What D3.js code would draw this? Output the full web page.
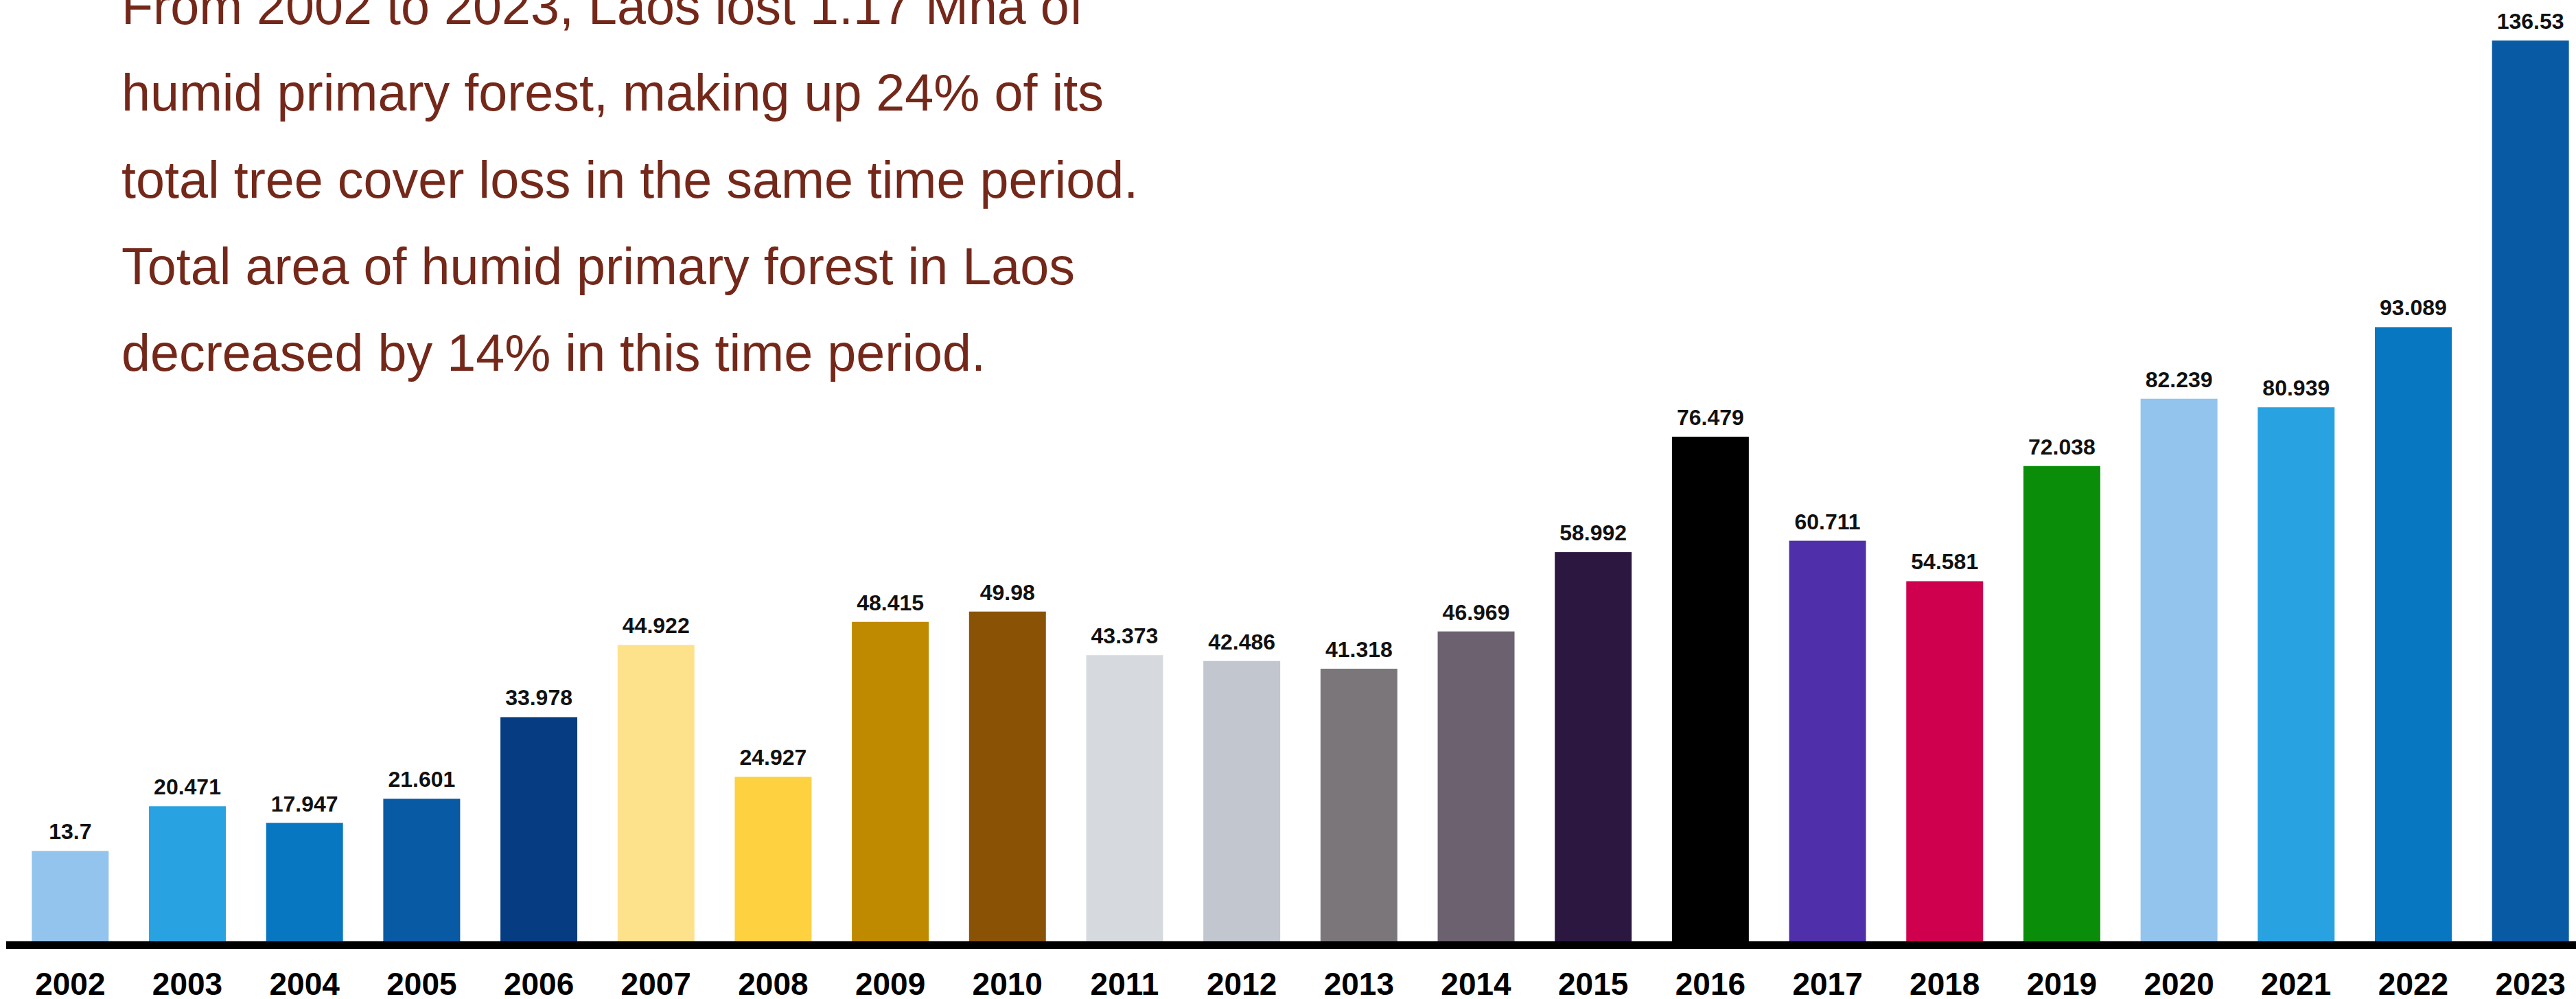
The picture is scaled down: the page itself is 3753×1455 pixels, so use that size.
<!DOCTYPE html>
<meta charset="utf-8">
<style>
    body {
        margin: 0;
        background: #fff;
    }

    svg {
        display: block;
        font-family: "Liberation Sans", Arial, Helvetica, sans-serif;
    }

    .note {
        fill: #74281a;
        font-size: 75.5px;
    }

    .value-label {
        fill: #111;
        font-size: 32px;
        font-weight: bold;
        text-anchor: middle;
    }

    .x.axis text {
        fill: #000;
        font-size: 46px;
        font-weight: bold;
    }
</style>
<body>
<script src="https://cdn.jsdelivr.net/npm/d3@7"></script>
<script>
    // tree cover loss of humid primary forest in Laos, kha per year
    const years = ["2002", "2003", "2004", "2005", "2006", "2007", "2008", "2009", "2010", "2011", "2012",
        "2013", "2014", "2015", "2016", "2017", "2018", "2019", "2020", "2021", "2022", "2023"];

    const values = [13.7, 20.471, 17.947, 21.601, 33.978, 44.922, 24.927, 48.415, 49.98, 43.373, 42.486,
        41.318, 46.969, 58.992, 76.479, 60.711, 54.581, 72.038, 82.239, 80.939, 93.089, 136.53];

    const barColors = ["#93c4ee", "#28a2e0", "#0777c2", "#075aa3", "#063d82", "#fde18b", "#fdd140",
        "#bf8900", "#8a5204", "#d6dadf", "#c2c6ce", "#7b7679", "#6c616e", "#2b1740", "#000000",
        "#4f2faa", "#cf004e", "#0a8e0a", "#93c4ee", "#28a2e0", "#0777c2", "#075aa3"];

    const noteLines = [
        "From 2002 to 2023, Laos lost 1.17 Mha of",
        "humid primary forest, making up 24% of its",
        "total tree cover loss in the same time period.",
        "Total area of humid primary forest in Laos",
        "decreased by 14% in this time period."
    ];

    const width = 3753;
    const height = 1455;
    const baseY = 1371;   // bottom of the bars
    const topY = 59;      // top of the tallest bar

    const data = years.map((y, i) => ({year: y, value: values[i], color: barColors[i]}));

    const svg = d3.select("body")
        .append("svg")
        .attr("width", width)
        .attr("height", height);

    const x = d3.scaleBand()
        .domain(years)
        .range([17, 3772])
        .paddingInner(0.344)
        .paddingOuter(0.172);

    const y = d3.scaleLinear()
        .domain([0, d3.max(values)])
        .range([baseY, topY]);

    // bars
    svg.append("g")
        .attr("class", "bars")
        .selectAll("rect")
        .data(data)
        .enter().append("rect")
        .attr("x", d => x(d.year))
        .attr("y", d => y(d.value))
        .attr("width", x.bandwidth())
        .attr("height", d => y(0) - y(d.value))
        .style("fill", d => d.color);

    // value labels above bars
    svg.append("g")
        .selectAll("text")
        .data(data)
        .enter().append("text")
        .attr("class", "value-label")
        .attr("x", d => x(d.year) + x.bandwidth() / 2)
        .attr("y", d => y(d.value) - 17)
        .text(d => String(d.value));

    // thick baseline
    svg.append("rect")
        .attr("x", 9)
        .attr("y", baseY)
        .attr("width", width - 9)
        .attr("height", 11)
        .style("fill", "#000");

    // year labels
    const xAxis = d3.axisBottom(x).tickSize(0);
    svg.append("g")
        .attr("class", "x axis")
        .attr("transform", "translate(0," + baseY + ")")
        .call(xAxis)
        .call(g => g.select(".domain").remove())
        .selectAll("text")
        .attr("y", 78)
        .attr("dy", 0)
        .style("font-family", null);

    // annotation text
    svg.append("g")
        .selectAll("text")
        .data(noteLines)
        .enter().append("text")
        .attr("class", "note")
        .attr("x", 177)
        .attr("y", (d, i) => 35 + i * 126.3)
        .text(d => d);
</script>
</body>
</html>
